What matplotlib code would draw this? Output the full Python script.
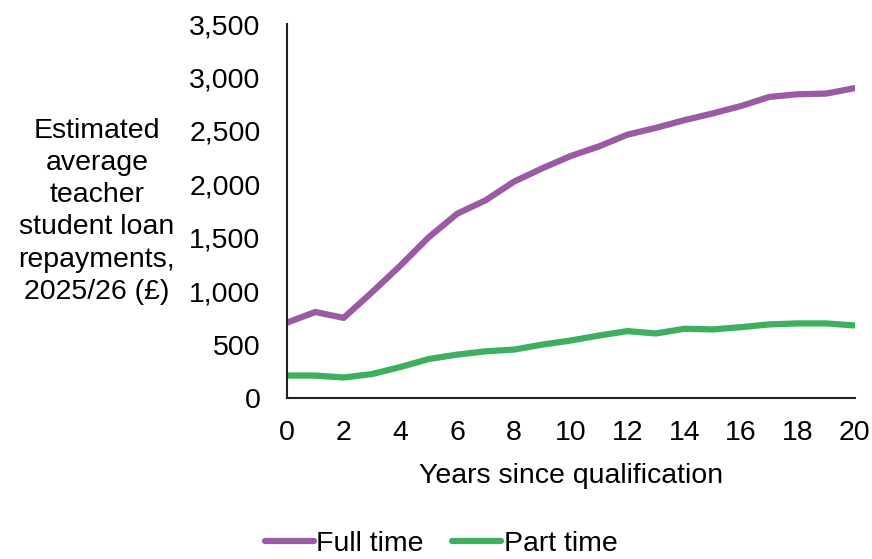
import matplotlib.pyplot as plt
import numpy as np

plt.rcParams['font.family'] = ['Liberation Sans', 'DejaVu Sans']

years = np.arange(0, 21)
full_time = [705, 805, 750, 990, 1240, 1505, 1725, 1850, 2025, 2150, 2265,
             2355, 2465, 2528, 2600, 2663, 2733, 2818, 2843, 2849, 2900]
part_time = [210, 210, 192, 224, 290, 365, 406, 437, 453, 500, 538,
             585, 626, 604, 648, 642, 663, 689, 698, 698, 679]

fs = 20.5

fig = plt.figure(figsize=(8.72, 5.59), dpi=100)
ax = fig.add_axes([0.329, 0.288, 0.651, 0.669])

ax.plot(years, full_time, color='#9a5ba4', linewidth=4.5, label='Full time',
        solid_capstyle='round')
ax.plot(years, part_time, color='#3cb05e', linewidth=4.5, label='Part time',
        solid_capstyle='round')

ax.set_xlim(0, 20)
ax.set_ylim(0, 3500)
ax.set_xticks(range(0, 21, 2))
ax.set_yticks(range(0, 3501, 500))
ax.yaxis.set_major_formatter(plt.FuncFormatter(lambda v, p: f'{int(v):,}'))
ax.tick_params(axis='x', length=0, labelsize=fs, pad=16)
ax.tick_params(axis='y', length=0, labelsize=fs, pad=19)

for s in ['top', 'right']:
    ax.spines[s].set_visible(False)
for s in ['left', 'bottom']:
    ax.spines[s].set_linewidth(1.5)
    ax.spines[s].set_color('#222222')

ax.set_xlabel('Years since qualification', fontsize=fs, labelpad=12)
fig.text(0.111, 0.622, 'Estimated\naverage\nteacher\nstudent loan\nrepayments,\n2025/26 (£)',
         ha='center', va='center', fontsize=fs, linespacing=1.31)

# legend sits right on the bottom edge
fig.legend(loc='lower center', bbox_to_anchor=(0.506, -0.042), ncol=2, fontsize=fs,
           frameon=False, handlelength=1.7, handletextpad=0.1, columnspacing=1.0)

plt.savefig('out.png', dpi=100)
